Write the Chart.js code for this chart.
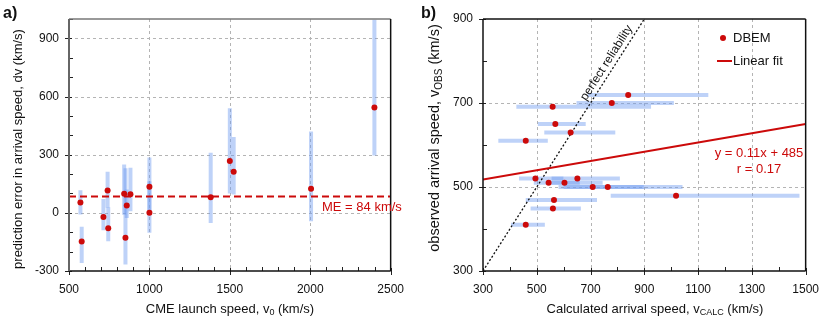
<!DOCTYPE html>
<html>
<head>
<meta charset="utf-8">
<script src="https://cdn.jsdelivr.net/npm/chart.js@4/dist/chart.umd.min.js"></script>
<style>
body { margin: 0; background: #fff; }
#wrap { position: relative; width: 830px; height: 332px; }
.pane { position: absolute; top: 0; width: 415px; height: 332px; }
</style>
</head>
<body>
<div id="wrap">
  <div class="pane" style="left:0"><canvas id="chartA" width="415" height="332"></canvas></div>
  <div class="pane" style="left:415px"><canvas id="chartB" width="415" height="332"></canvas></div>
</div>
<script>
// ---- panel a: prediction error vs launch speed ----
const launchSpeed = [571, 579, 714, 740, 744, 843, 851, 859, 882, 1000, 1000, 1381, 1500, 1524, 2005, 2399];
const speedError  = [53, -148, -21, 115, -80, 98, -129, 38, 96, 134, 0, 81, 267, 212, 124, 543];
const errorLow    = [-9, -259, -90, 26, -147, -10, -267, -26, 8, 8, -103, -52, 100, 95, -43, 296];
const errorHigh   = [117, -72, 72, 212, 29, 250, 230, 120, 233, 285, 163, 310, 539, 391, 419, 996];
const meanError = 84;
const aXTicks = [500, 1000, 1500, 2000, 2500];
const aYTicks = [-300, 0, 300, 600, 900];

// ---- panel b: observed vs calculated arrival speed ----
const calcSpeed = [840, 779, 559, 569, 626, 459, 495, 544, 603, 651, 708, 764, 1018, 564, 560, 459];
const obsSpeed  = [719, 700, 691, 650, 630, 610, 520, 510, 510, 520, 500, 500, 479, 469, 449, 410];
const calcLow   = [690, 648, 424, 504, 528, 357, 434, 489, 555, 555, 581, 600, 775, 459, 477, 404];
const calcHigh  = [1138, 1010, 925, 682, 792, 541, 599, 745, 660, 809, 898, 1042, 1477, 724, 664, 530];
const fitX = [300, 1500];
const fitY = [518, 650];
const idealX = [300, 900];
const idealY = [300, 900];
const bXTicks = [300, 500, 700, 900, 1100, 1300, 1500];
const bYTicks = [300, 500, 700, 900];

const fontFam = "'Liberation Sans', Arial, Helvetica, sans-serif";
const red = '#cc0a0a';
const barColor = 'rgba(110, 155, 240, 0.45)';

function range(a, b, step) {
    const out = [];
    for (let v = a; v <= b; v += step) out.push(v);
    return out;
}

function drawTitle(ctx, parts, cx, cy, rot, size) {
    size = size || 13;
    ctx.save();
    ctx.translate(cx, cy);
    if (rot) ctx.rotate(rot);
    const big = size + 'px ' + fontFam, small = Math.round(size * 0.7) + 'px ' + fontFam;
    let w = 0;
    parts.forEach(p => { ctx.font = p.sub ? small : big; p.w = ctx.measureText(p.t).width; w += p.w; });
    let x = -w / 2;
    ctx.textBaseline = 'middle';
    ctx.textAlign = 'left';
    ctx.fillStyle = '#111';
    parts.forEach(p => {
        ctx.font = p.sub ? small : big;
        ctx.fillText(p.t, x, p.sub ? size * 0.3 : 0);
        x += p.w;
    });
    ctx.restore();
}

// dashed grid behind the data
function gridPlugin(xGrid, yGrid) {
    return {
        id: 'dashGrid',
        beforeDatasetsDraw(chart) {
            const ctx = chart.ctx, a = chart.chartArea, sx = chart.scales.x, sy = chart.scales.y;
            ctx.save();
            ctx.strokeStyle = '#b4b4b4';
            ctx.lineWidth = 1;
            ctx.setLineDash([3, 3]);
            xGrid.forEach(v => {
                const x = Math.round(sx.getPixelForValue(v)) + 0.5;
                ctx.beginPath(); ctx.moveTo(x, a.top); ctx.lineTo(x, a.bottom); ctx.stroke();
            });
            yGrid.forEach(v => {
                const y = Math.round(sy.getPixelForValue(v)) + 0.5;
                ctx.beginPath(); ctx.moveTo(a.left, y); ctx.lineTo(a.right, y); ctx.stroke();
            });
            ctx.restore();
        }
    };
}

// major ticks cross the axis, minor ticks point inward
function tickMarks(chart, xMajor, yMajor, xMinor, yMinor) {
    const ctx = chart.ctx, a = chart.chartArea, sx = chart.scales.x, sy = chart.scales.y;
    ctx.save();
    ctx.strokeStyle = '#222';
    ctx.lineWidth = 1;
    xMinor.forEach(v => {
        const x = Math.round(sx.getPixelForValue(v)) + 0.5;
        const inner = xMajor.includes(v) ? 3 : 4;
        ctx.beginPath(); ctx.moveTo(x, a.bottom + (xMajor.includes(v) ? 4 : 0)); ctx.lineTo(x, a.bottom - inner); ctx.stroke();
    });
    yMinor.forEach(v => {
        const y = Math.round(sy.getPixelForValue(v)) + 0.5;
        const inner = yMajor.includes(v) ? 3 : 4;
        ctx.beginPath(); ctx.moveTo(a.left - (yMajor.includes(v) ? 4 : 0), y); ctx.lineTo(a.left + inner, y); ctx.stroke();
    });
    ctx.restore();
}

function edge(ctx, x1, y1, x2, y2, color, w) {
    ctx.strokeStyle = color;
    ctx.lineWidth = w;
    ctx.beginPath(); ctx.moveTo(x1, y1); ctx.lineTo(x2, y2); ctx.stroke();
}

function axisOptions(min, max, ticks, pad, fit) {
    return {
        type: 'linear',
        min: min,
        max: max,
        grid: { display: false, drawTicks: false },
        border: { display: false },
        afterBuildTicks: s => { s.ticks = ticks.map(v => ({ value: v })); },
        afterFit: fit,
        ticks: {
            color: '#111',
            font: { family: fontFam, size: 12 },
            padding: pad,
            callback: v => String(v)
        }
    };
}

const baseOptions = {
    responsive: false,
    animation: false,
    events: [],
    plugins: { legend: { display: false }, tooltip: { enabled: false } }
};

// ---------------- panel a ----------------
const aBars = launchSpeed.map((v, i) => ({
    data: [{ x: v, y: errorLow[i] }, { x: v, y: errorHigh[i] }],
    showLine: true, borderColor: barColor, borderWidth: 4, borderCapStyle: 'butt',
    pointRadius: 0, order: 3
}));

new Chart(document.getElementById('chartA'), {
    type: 'scatter',
    data: {
        datasets: aBars.concat([
            {
                data: [{ x: 500, y: meanError }, { x: 2500, y: meanError }],
                showLine: true, borderColor: red, borderWidth: 2, borderDash: [7, 4],
                pointRadius: 0, order: 1
            },
            {
                data: launchSpeed.map((v, i) => ({ x: v, y: speedError[i] })),
                pointRadius: 3, pointBackgroundColor: red, pointBorderWidth: 0, order: 0
            }
        ])
    },
    options: Object.assign({}, baseOptions, {
        layout: { padding: { top: 19, right: 16, left: 0, bottom: 0 } },
        scales: {
            x: axisOptions(500, 2500, aXTicks, 11, s => { s.height = 61; }),
            y: axisOptions(-300, 1000, aYTicks, 10, s => { s.width = 69; })
        }
    }),
    plugins: [gridPlugin([1000, 1500, 2000], [0, 300, 600, 900]), {
        id: 'panelA',
        afterDraw(chart) {
            const ctx = chart.ctx, a = chart.chartArea;
            tickMarks(chart, aXTicks, aYTicks, range(500, 2500, 100), range(-300, 1000, 100));
            ctx.save();
            edge(ctx, a.left, a.top, a.right, a.top, '#777', 1.5);
            edge(ctx, a.right, a.top, a.right, a.bottom, '#111', 1.5);
            edge(ctx, a.left, a.bottom, a.right, a.bottom, '#111', 1.5);
            edge(ctx, a.left, a.top, a.left, a.bottom, '#666', 2);
            ctx.fillStyle = red;
            ctx.font = '13px ' + fontFam;
            ctx.textBaseline = 'middle';
            ctx.fillText('ME = 84 km/s', 322, 207);
            ctx.fillStyle = '#111';
            ctx.font = 'bold 16px ' + fontFam;
            ctx.textBaseline = 'alphabetic';
            ctx.fillText('a)', 3, 18);
            ctx.restore();
            drawTitle(ctx, [{ t: 'CME launch speed, v' }, { t: '0', sub: true }, { t: ' (km/s)' }], 230, 309, 0);
            drawTitle(ctx, [{ t: 'prediction error in arrival speed, dv (km/s)' }], 18, 149, -Math.PI / 2);
        }
    }]
});

// ---------------- panel b ----------------
const bBars = calcSpeed.map((v, i) => ({
    data: [{ x: calcLow[i], y: obsSpeed[i] }, { x: calcHigh[i], y: obsSpeed[i] }],
    showLine: true, borderColor: barColor, borderWidth: 4, borderCapStyle: 'butt',
    pointRadius: 0, order: 3
}));

new Chart(document.getElementById('chartB'), {
    type: 'scatter',
    data: {
        datasets: bBars.concat([
            {
                data: idealX.map((v, i) => ({ x: v, y: idealY[i] })),
                showLine: true, borderColor: '#111', borderWidth: 1.3, borderDash: [2, 2],
                pointRadius: 0, order: 2
            },
            {
                data: fitX.map((v, i) => ({ x: v, y: fitY[i] })),
                showLine: true, borderColor: red, borderWidth: 2,
                pointRadius: 0, order: 1
            },
            {
                data: calcSpeed.map((v, i) => ({ x: v, y: obsSpeed[i] })),
                pointRadius: 3, pointBackgroundColor: red, pointBorderWidth: 0, order: 0
            }
        ])
    },
    options: Object.assign({}, baseOptions, {
        layout: { padding: { top: 19, right: 19, left: 0, bottom: 0 } },
        scales: {
            x: axisOptions(300, 1500, bXTicks, 11, s => { s.height = 61; }),
            y: axisOptions(300, 900, bYTicks, 10, s => { s.width = 68; })
        }
    }),
    plugins: [gridPlugin([500, 700, 900, 1100, 1300], [500, 700]), {
        id: 'panelB',
        afterDraw(chart) {
            const ctx = chart.ctx, a = chart.chartArea, sx = chart.scales.x, sy = chart.scales.y;
            tickMarks(chart, bXTicks, bYTicks, range(300, 1500, 100), range(300, 900, 100));
            ctx.save();
            edge(ctx, a.left, a.top, a.right, a.top, '#111', 1.5);
            edge(ctx, a.right, a.top, a.right, a.bottom, '#111', 1.5);
            edge(ctx, a.left, a.bottom, a.right, a.bottom, '#111', 1.5);
            edge(ctx, a.left, a.top, a.left, a.bottom, '#111', 1.5);

            // label along the y = x line
            const x1 = sx.getPixelForValue(idealX[0]), y1 = sy.getPixelForValue(idealY[0]);
            const x2 = sx.getPixelForValue(idealX[1]), y2 = sy.getPixelForValue(idealY[1]);
            const ang = Math.atan2(y2 - y1, x2 - x1);
            ctx.save();
            ctx.translate(sx.getPixelForValue(785), sy.getPixelForValue(785));
            ctx.rotate(ang);
            ctx.fillStyle = '#111';
            ctx.font = '12px ' + fontFam;
            ctx.textAlign = 'center';
            ctx.textBaseline = 'bottom';
            ctx.fillText('perfect reliability', 0, -2);
            ctx.restore();

            // legend
            ctx.fillStyle = red;
            ctx.beginPath(); ctx.arc(308, 38, 3, 0, Math.PI * 2); ctx.fill();
            edge(ctx, 302, 61, 317, 61, red, 2);
            ctx.fillStyle = '#111';
            ctx.font = '13px ' + fontFam;
            ctx.textBaseline = 'middle';
            ctx.fillText('DBEM', 318, 38);
            ctx.fillText('Linear fit', 318, 61);

            ctx.fillStyle = red;
            ctx.textAlign = 'center';
            ctx.fillText('y = 0.11x + 485', 344, 153);
            ctx.fillText('r = 0.17', 344, 169);

            ctx.fillStyle = '#111';
            ctx.textAlign = 'left';
            ctx.font = 'bold 16px ' + fontFam;
            ctx.textBaseline = 'alphabetic';
            ctx.fillText('b)', 6, 18);
            ctx.restore();
            drawTitle(ctx, [{ t: 'Calculated arrival speed, v' }, { t: 'CALC', sub: true }, { t: ' (km/s)' }], 240, 309, 0);
            drawTitle(ctx, [{ t: 'observed arrival speed, v' }, { t: 'OBS', sub: true }, { t: ' (km/s)' }], 20, 138, -Math.PI / 2, 14.5);
        }
    }]
});
</script>
</body>
</html>
